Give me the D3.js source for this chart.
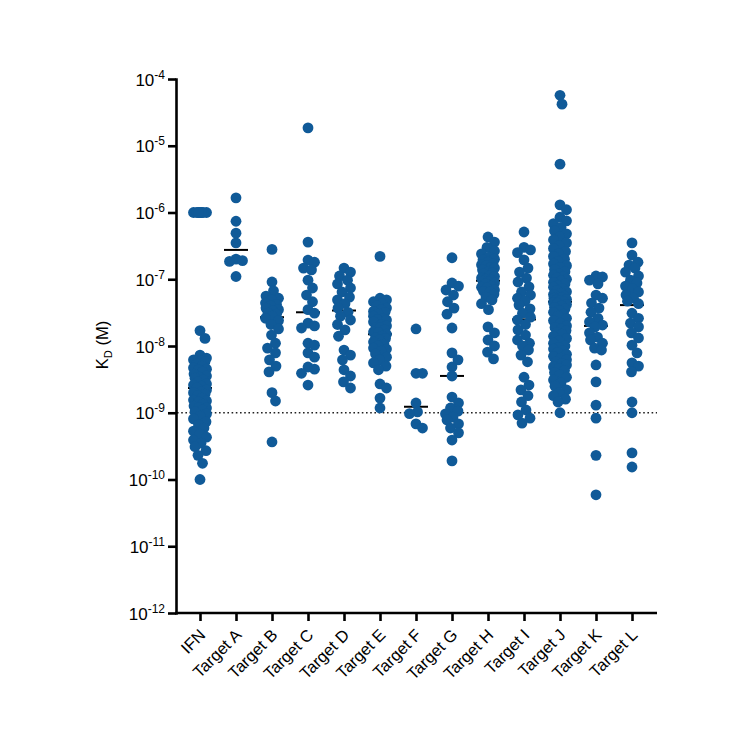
<!DOCTYPE html>
<html><head><meta charset="utf-8">
<script src="https://cdn.jsdelivr.net/npm/d3@7"></script>
<style>body{margin:0;background:#fff}svg{display:block}</style>
</head><body>
<svg id="chart" width="750" height="750"></svg>
<script>
const categories = ["IFN","Target A","Target B","Target C","Target D","Target E","Target F","Target G","Target H","Target I","Target J","Target K","Target L"];

const ifn = [1e-6,1e-6,1e-6,1e-6,1e-6,1e-6,1e-6,1.7e-8,1.3e-8,7.3e-9,6.6e-9,6.0e-9,6.2e-9,5.8e-9,5.4e-9,5.0e-9,4.7e-9,4.5e-9,4.4e-9,4.1e-9,3.8e-9,3.55e-9,3.4e-9,3.3e-9,3.1e-9,2.9e-9,2.7e-9,2.6e-9,2.5e-9,2.35e-9,2.2e-9,2.05e-9,2.0e-9,1.9e-9,1.8e-9,1.66e-9,1.55e-9,1.5e-9,1.45e-9,1.35e-9,1.26e-9,1.2e-9,1.18e-9,1.1e-9,1.03e-9,9.6e-10,8.9e-10,8.1e-10,7.3e-10,6.6e-10,5.9e-10,5.3e-10,4.8e-10,4.3e-10,3.9e-10,3.5e-10,3.1e-10,2.7e-10,2.3e-10,1.75e-10,1.0e-10];
const targetA = [1.66e-6,7.4e-7,4.9e-7,3.5e-7,2.0e-7,1.9e-7,1.85e-7,1.1e-7];
const targetB = [2.8e-7,9.1e-8,6.7e-8,5.6e-8,5.2e-8,4.9e-8,4.4e-8,4.2e-8,4.0e-8,3.7e-8,3.5e-8,3.35e-8,3.1e-8,3.0e-8,2.8e-8,2.6e-8,2.4e-8,2.1e-8,1.8e-8,1.46e-8,1.1e-8,9.3e-9,7.9e-9,6.2e-9,5.0e-9,4.1e-9,2.0e-9,1.5e-9,3.65e-10];
const targetC = [1.85e-5,3.6e-7,1.94e-7,1.8e-7,1.47e-7,1.38e-7,9.7e-8,7.4e-8,5.8e-8,4.6e-8,3.5e-8,3.1e-8,2.2e-8,2.0e-8,1.86e-8,1.1e-8,1.03e-8,7.9e-9,6.8e-9,4.85e-9,4.5e-9,3.9e-9,2.6e-9];
const targetD = [1.47e-7,1.28e-7,1.12e-7,9.7e-8,8.5e-8,7.4e-8,6.45e-8,5.4e-8,4.9e-8,4.3e-8,3.7e-8,3.2e-8,2.8e-8,2.45e-8,2.1e-8,1.74e-8,1.4e-8,8.7e-9,7.3e-9,6.2e-9,4.4e-9,3.55e-9,2.9e-9,2.35e-9];
const targetE = [2.2e-7,5.2e-8,4.9e-8,4.6e-8,4.3e-8,4.0e-8,3.7e-8,3.5e-8,3.3e-8,3.2e-8,3.0e-8,2.8e-8,2.6e-8,2.5e-8,2.45e-8,2.3e-8,2.1e-8,2.0e-8,1.9e-8,1.86e-8,1.74e-8,1.62e-8,1.6e-8,1.5e-8,1.41e-8,1.32e-8,1.3e-8,1.23e-8,1.15e-8,1.07e-8,1.0e-8,9.3e-9,9.0e-9,8.4e-9,7.6e-9,6.8e-9,6.2e-9,5.6e-9,5.0e-9,4.4e-9,2.7e-9,2.35e-9,1.66e-9,1.18e-9];
const targetF = [1.8e-8,3.9e-9,3.9e-9,1.4e-9,1.03e-9,9.7e-10,6.8e-10,5.9e-10];
const targetG = [2.1e-7,8.8e-8,7.9e-8,6.9e-8,5.8e-8,4.6e-8,3.7e-8,3.0e-8,1.86e-8,7.9e-9,6.2e-9,4.85e-9,3.55e-9,1.72e-9,1.4e-9,1.18e-9,1.06e-9,9.6e-10,8.6e-10,7.8e-10,6.8e-10,5.9e-10,5.0e-10,3.9e-10,1.9e-10];
const targetH = [4.3e-7,3.6e-7,3.0e-7,2.65e-7,2.4e-7,2.15e-7,2.0e-7,1.95e-7,1.8e-7,1.7e-7,1.65e-7,1.58e-7,1.5e-7,1.47e-7,1.38e-7,1.28e-7,1.25e-7,1.2e-7,1.12e-7,1.1e-7,1.04e-7,1.0e-7,9.7e-8,9.4e-8,9.1e-8,8.8e-8,8.5e-8,7.9e-8,7.6e-8,7.4e-8,6.9e-8,6.6e-8,6.45e-8,6.0e-8,5.4e-8,4.9e-8,4.3e-8,3.5e-8,1.93e-8,1.57e-8,1.23e-8,1.0e-8,8.1e-9,6.4e-9];
const targetI = [5.1e-7,3.0e-7,2.75e-7,2.5e-7,1.95e-7,1.47e-7,1.28e-7,1.04e-7,9.1e-8,7.7e-8,6.45e-8,5.8e-8,5.2e-8,4.7e-8,4.1e-8,3.6e-8,3.1e-8,2.7e-8,2.45e-8,2.1e-8,1.74e-8,1.46e-8,1.23e-8,1.1e-8,1.0e-8,8.7e-9,7.3e-9,5.8e-9,3.4e-9,2.6e-9,2.2e-9,1.8e-9,1.45e-9,1.1e-9,9.3e-10,8.3e-10,7.0e-10];
const targetJ = [5.7e-5,4.2e-5,5.3e-6,1.3e-6,1.1e-6,8.5e-7,7.5e-7,6.8e-7,6.0e-7,5.3e-7,4.8e-7,4.3e-7,3.9e-7,3.5e-7,3.2e-7,2.9e-7,2.6e-7,2.4e-7,2.2e-7,2.0e-7,1.85e-7,1.7e-7,1.6e-7,1.5e-7,1.4e-7,1.3e-7,1.2e-7,1.15e-7,1.1e-7,1.05e-7,1.0e-7,9.5e-8,9.0e-8,8.5e-8,8.0e-8,7.6e-8,7.2e-8,6.8e-8,6.5e-8,6.2e-8,5.9e-8,5.6e-8,5.4e-8,5.3e-8,5.2e-8,5.0e-8,4.9e-8,4.8e-8,4.6e-8,4.5e-8,4.4e-8,4.2e-8,4.0e-8,3.8e-8,3.6e-8,3.4e-8,3.2e-8,3.0e-8,2.8e-8,2.6e-8,2.4e-8,2.2e-8,2.0e-8,1.9e-8,1.8e-8,1.7e-8,1.6e-8,1.5e-8,1.4e-8,1.3e-8,1.2e-8,1.1e-8,1.0e-8,9.5e-9,9.0e-9,8.5e-9,8.0e-9,7.5e-9,7.0e-9,6.6e-9,6.2e-9,5.8e-9,5.5e-9,5.2e-9,4.9e-9,4.6e-9,4.3e-9,4.0e-9,3.7e-9,3.4e-9,3.1e-9,2.8e-9,2.5e-9,2.2e-9,2.0e-9,1.8e-9,1.6e-9,1.45e-9,1.0e-9];
const targetK = [1.12e-7,1.08e-7,9.7e-8,8.5e-8,5.8e-8,5.2e-8,4.4e-8,3.7e-8,3.2e-8,2.6e-8,2.3e-8,2.06e-8,1.93e-8,1.57e-8,1.36e-8,1.23e-8,1.1e-8,9.3e-9,8.7e-9,5.2e-9,2.9e-9,1.3e-9,8.3e-10,2.3e-10,5.9e-11];
const targetL = [3.5e-7,2.3e-7,1.8e-7,1.63e-7,1.47e-7,1.28e-7,1.12e-7,9.7e-8,8.8e-8,7.9e-8,7.2e-8,6.45e-8,5.8e-8,5.2e-8,4.7e-8,4.3e-8,3.1e-8,2.6e-8,2.2e-8,1.93e-8,1.57e-8,1.32e-8,1.03e-8,7.9e-9,5.6e-9,5.0e-9,4.1e-9,1.45e-9,1.0e-9,2.5e-10,1.54e-10];

const medians = [2.35e-9,2.75e-7,2.7e-8,3.2e-8,3.4e-8,1.5e-8,1.23e-9,3.56e-9,9.5e-8,2.5e-8,4.6e-8,2.0e-8,4.1e-8];
const thresholdKD = 1e-9;
const yTickValues = [1e-4,1e-5,1e-6,1e-7,1e-8,1e-9,1e-10,1e-11,1e-12];

const groups = [ifn,targetA,targetB,targetC,targetD,targetE,targetF,targetG,targetH,targetI,targetJ,targetK,targetL];

const FONT = "'Liberation Sans', Arial, Helvetica, sans-serif";
const DOT = "#105a98";
const R = 5.4;

const svg = d3.select("#chart");
svg.append("rect").attr("width",750).attr("height",750).attr("fill","#fff");

const y = d3.scaleLog().domain([1e-12,1e-4]).range([613,79]);
const x = d3.scalePoint().domain(categories).range([200,632]);

// threshold dotted line
svg.append("line")
  .attr("x1",177).attr("x2",657)
  .attr("y1",y(thresholdKD)).attr("y2",y(thresholdKD))
  .attr("stroke","#222").attr("stroke-width",1.6)
  .attr("stroke-dasharray","1.6,2.6");

// median lines (behind dots)
svg.append("g").selectAll("line").data(categories).join("line")
  .attr("x1",d=>x(d)-12).attr("x2",d=>x(d)+12)
  .attr("y1",(d,i)=>y(medians[i])).attr("y2",(d,i)=>y(medians[i]))
  .attr("stroke","#000").attr("stroke-width",2);

// deterministic beeswarm
function swarm(values, cx){
  const pts = values.map(v=>({v, py:y(v)})).sort((a,b)=>a.py-b.py);
  const placed = [];
  const D = 9, MAX = 6.5, STEP = 0.5;
  pts.forEach(p=>{
    let chosen = null, best = null, bestScore = -1;
    const n = Math.round(MAX/STEP);
    for(let k=0;k<=2*n;k++){
      const off = (k===0?0:(k%2?1:-1)*Math.ceil(k/2)*STEP);
      let minD = Infinity;
      for(const q of placed){
        const dy = q.py-p.py;
        if(Math.abs(dy)>=D) continue;
        const dd = Math.hypot(q.off-off, dy);
        if(dd<minD) minD = dd;
      }
      if(minD>=D){chosen=off;break;}
      if(minD>bestScore+1e-9){bestScore=minD;best=off;}
    }
    p.off = chosen!==null?chosen:best;
    placed.push(p);
  });
  return placed.map(p=>({v:p.v, cx:cx+p.off, cy:p.py}));
}

const dots = [];
categories.forEach((c,i)=>{ swarm(groups[i], x(c)).forEach(d=>dots.push(d)); });

svg.append("g").selectAll("circle").data(dots).join("circle")
  .attr("cx",d=>d.cx).attr("cy",d=>d.cy).attr("r",R).attr("fill",DOT);

// Y axis
const gy = svg.append("g").attr("transform","translate(176,0)")
  .call(d3.axisLeft(y).tickValues(yTickValues).tickSize(8).tickSizeOuter(0).tickFormat(""));
gy.select(".domain").attr("stroke","#000").attr("stroke-width",2.6).attr("stroke-linecap","square");
gy.selectAll(".tick line").attr("stroke","#000").attr("stroke-width",2.6);
gy.selectAll(".tick text").each(function(d){
  const t = d3.select(this);
  t.text(null).attr("x",-11).attr("dy",null).attr("y",6)
    .attr("fill","#000").attr("font-family",FONT).attr("font-size","17px").attr("text-anchor","end");
  t.append("tspan").text("10");
  t.append("tspan").attr("dy",-7).attr("font-size","12px").text(String(Math.round(Math.log10(d))));
});

// X axis
const gx = svg.append("g").attr("transform","translate(0,613)")
  .call(d3.axisBottom(x).tickSize(8).tickSizeOuter(0));
gx.select(".domain").remove();
gx.selectAll(".tick line").attr("stroke","#000").attr("stroke-width",2.6);
gx.selectAll(".tick text")
  .attr("y",0).attr("dy",null).attr("x",0)
  .attr("text-anchor","end")
  .attr("transform","translate(6,23) rotate(-45)")
  .attr("fill","#000").attr("font-family",FONT).attr("font-size","16.5px");
svg.append("line").attr("x1",175).attr("x2",657).attr("y1",613).attr("y2",613)
  .attr("stroke","#000").attr("stroke-width",2.6);

// Y title
const yt = svg.append("text")
  .attr("transform","translate(108,345) rotate(-90)")
  .attr("text-anchor","middle").attr("font-family",FONT).attr("font-size","16.5px").attr("fill","#000");
yt.append("tspan").text("K");
yt.append("tspan").attr("dy",4).attr("font-size","11px").text("D");
yt.append("tspan").attr("dy",-4).text(" (M)");
</script>
</body></html>
